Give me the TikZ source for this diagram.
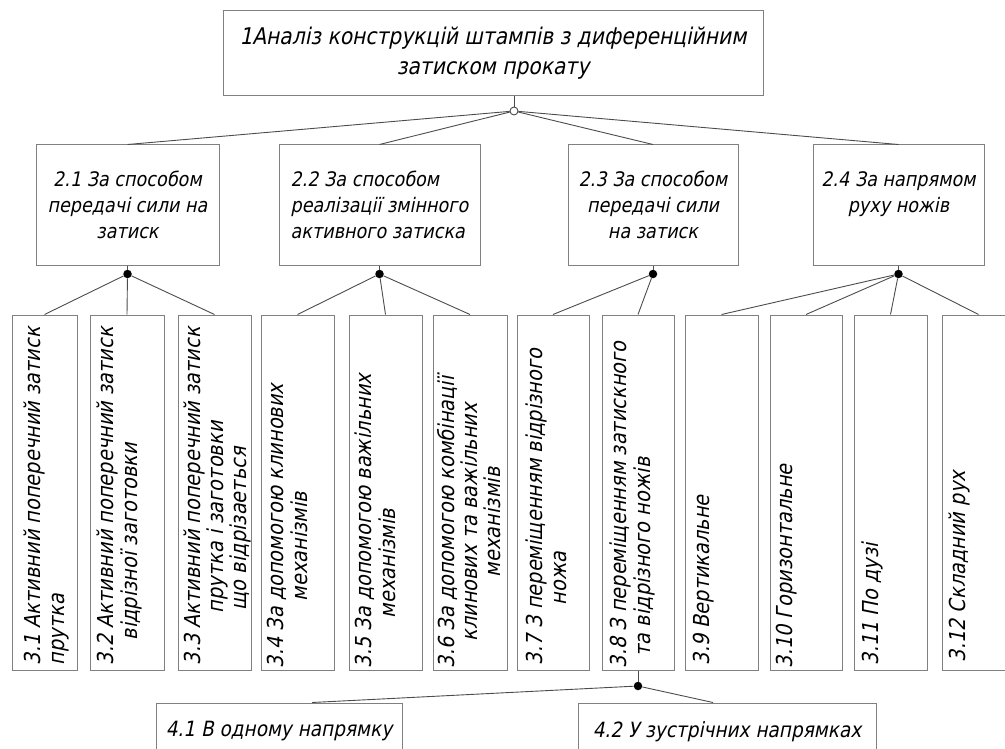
\documentclass[tikz,border=0pt]{standalone}
\usepackage{fontspec}
\setmainfont{DejaVu Sans}[FakeSlant=0.2,FakeStretch=0.88]
\usepackage{tikz}

\begin{document}
\begin{tikzpicture}[x=1pt,y=-1pt,
  box/.style={draw=black!50,line width=1pt,inner sep=0pt,align=center,font=\fontsize{20}{26}\selectfont},
  vert text/.style={rotate=90,anchor=north west,align=left,inner sep=0pt,font=\fontsize{22}{24}\selectfont},
  joint/.style={circle,fill=black,inner sep=0pt,minimum size=8.5pt},
  every edge/.style={draw=black!70,line width=0.9pt}]
  \useasboundingbox (0,0) rectangle (1005,749);

  % level 1
  \node[box,minimum width=540pt,minimum height=85pt,font=\fontsize{23}{30}\selectfont] (1) at (493,53.5)
    {1Аналіз конструкцій штампів з диференційним\\затиском прокату};
  \node[circle,draw=black!70,fill=white,line width=0.9pt,inner sep=0pt,minimum size=8pt] (c1) at (514,111) {};

  % level 2
  \node[box,minimum width=183pt,minimum height=120pt] (21) at (127.5,205) {2.1 За способом\\передачі сили на\\затиск};
  \node[box,minimum width=201pt,minimum height=120pt,align=left] (22) at (379.5,205) {2.2 За способом\\реалізації змінного\\активного затиска};
  \node[box,minimum width=170pt,minimum height=120pt] (23) at (653,205) {2.3 За способом\\передачі сили\\на затиск};
  \node[box,minimum width=171pt,minimum height=120pt] (24) at (898.5,205) {2.4 За напрямом\\руху ножів\\\mbox{}};
  \node[joint] (d21) at (127.5,274) {};
  \node[joint] (d22) at (379.5,274) {};
  \node[joint] (d23) at (653,274) {};
  \node[joint] (d24) at (898.5,274) {};

  % level 3
  \node[box,minimum width=65pt,minimum height=355pt] (31) at (44.5,492.5) {};
  \node[box,minimum width=74pt,minimum height=355pt] (32) at (127,492.5) {};
  \node[box,minimum width=73pt,minimum height=355pt] (33) at (214.5,492.5) {};
  \node[box,minimum width=73pt,minimum height=355pt] (34) at (297.5,492.5) {};
  \node[box,minimum width=73pt,minimum height=355pt] (35) at (385.5,492.5) {};
  \node[box,minimum width=74pt,minimum height=355pt] (36) at (470,492.5) {};
  \node[box,minimum width=72pt,minimum height=355pt] (37) at (553,492.5) {};
  \node[box,minimum width=72pt,minimum height=355pt] (38) at (638,492.5) {};
  \node[box,minimum width=73pt,minimum height=355pt] (39) at (721.5,492.5) {};
  \node[box,minimum width=72pt,minimum height=355pt] (310) at (806,492.5) {};
  \node[box,minimum width=73pt,minimum height=355pt] (311) at (890.5,492.5) {};
  \node[box,minimum width=73pt,minimum height=355pt] (312) at (978.5,492.5) {};

  \node[vert text] (t31) at ([shift={(12,-5)}]31.south west) {3.1 Активний поперечний затиск\\прутка};
  \node[vert text] (t32) at ([shift={(7,-5)}]32.south west) {3.2 Активний поперечний затиск\\\hspace*{25pt}відрізної заготовки};
  \node[vert text,font=\fontsize{22}{23}\selectfont] (t33) at ([shift={(6,-5)}]33.south west) {3.3 Активний поперечний затиск\\\hspace*{52pt}прутка і заготовки\\\hspace*{55pt}що відрізаеться};
  \node[vert text] (t34) at ([shift={(6,-2)}]34.south west) {3.4 За допомогою клинових\\\hspace*{67pt}механізмів};
  \node[vert text] (t35) at ([shift={(6,-2)}]35.south west) {3.5 За допомогою важільних\\\hspace*{50pt}механізмів};
  \node[vert text,align=center,font=\fontsize{22}{23}\selectfont] (t36) at ([shift={(5,-2)}]36.south west) {3.6 За допомогою комбінації\\клинових та важільних\\механізмів};
  \node[vert text] (t37) at ([shift={(9,-5)}]37.south west) {3.7 З переміщенням відрізного\\\hspace*{60pt}ножа};
  \node[vert text] (t38) at ([shift={(8,-2)}]38.south west) {3.8 З переміщенням затискного\\\hspace*{12pt}та відрізного ножів};
  \node[vert text] (t39) at ([shift={(8,-5)}]39.south west) {3.9 Вертикальне};
  \node[vert text] (t310) at ([shift={(6,-2)}]310.south west) {3.10 Горизонтальне};
  \node[vert text] (t311) at ([shift={(8,-5)}]311.south west) {3.11 По дузі};
  \node[vert text] (t312) at ([shift={(7,-8)}]312.south west) {3.12 Складний рух};
  \node[joint] (d38) at (638,686) {};

  % level 4
  \node[box,minimum width=246pt,minimum height=57pt,font=\fontsize{21}{26}\selectfont] (41) at (279,731.5) {4.1 В одному напрямку};
  \node[box,minimum width=298pt,minimum height=57pt,font=\fontsize{21}{26}\selectfont] (42) at (727,731.5) {4.2 У зустрічних напрямках};

  \path
    (1.south -| c1) edge (c1)
    (c1) edge (21.north)
    (c1) edge (22.north)
    (c1) edge (23.north)
    (c1) edge (24.north)
    (21.south) edge (d21)
    (22.south) edge (d22)
    (23.south) edge (d23)
    (24.south) edge (d24)
    (d21) edge (31.north)
    (d21) edge (32.north)
    (d21) edge (33.north)
    (d22) edge (34.north)
    (d22) edge (35.north)
    (d22) edge (36.north)
    (d23) edge (37.north)
    (d23) edge (38.north)
    (d24) edge (39.north)
    (d24) edge (310.north)
    (d24) edge (311.north)
    (d24) edge (312.north)
    (38.south) edge (d38)
    (d38) edge ([xshift=33pt]41.north)
    (d38) edge ([xshift=-14pt]42.north);
\end{tikzpicture}
\end{document}
